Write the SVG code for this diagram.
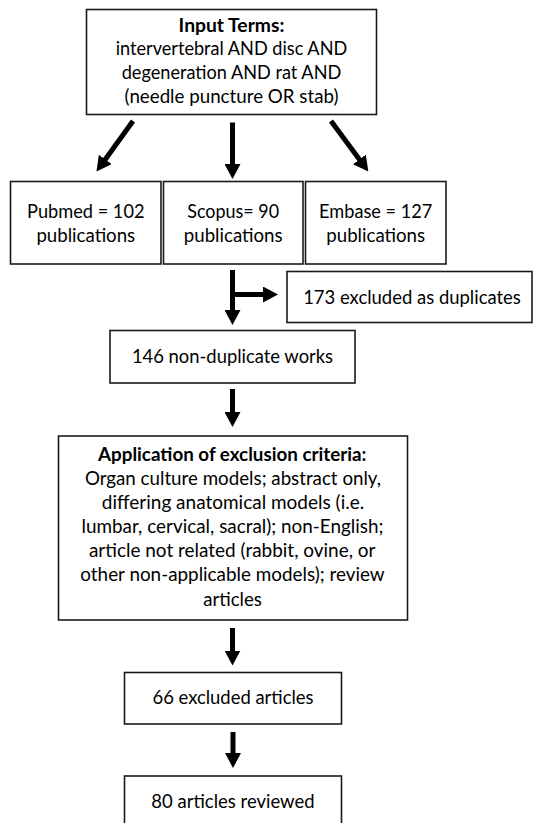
<svg xmlns="http://www.w3.org/2000/svg" width="533" height="823" viewBox="0 0 533 823">
<style>
.box{fill:#fff;stroke:#1a1a1a;stroke-width:1.6}
.t{font-family:Lato,"Open Sans","Liberation Sans",sans-serif;font-size:19.5px;fill:#000;text-anchor:middle}
.b{font-weight:bold}
.ar{stroke:#000;stroke-width:5;fill:none;marker-end:url(#ah)}
</style>
<defs>
<marker id="ah" markerUnits="userSpaceOnUse" viewBox="0 0 15 16" markerWidth="15" markerHeight="16" refX="1" refY="8" orient="auto">
<path d="M0,0 L15,8 L0,16 Z" fill="#000"/>
</marker>
</defs>
<rect width="533" height="823" fill="#fff"/>
<g id="connectors">
<line class="ar" x1="133" y1="121" x2="104.7" y2="160.2"/>
<line class="ar" x1="232.5" y1="122.5" x2="232.5" y2="165"/>
<line class="ar" x1="331" y1="121" x2="360" y2="160.2"/>
<line class="ar" x1="232.5" y1="270" x2="232.5" y2="311"/>
<line class="ar" x1="232.5" y1="294.5" x2="264" y2="294.5"/>
<line class="ar" x1="232.5" y1="389" x2="232.5" y2="413"/>
<line class="ar" x1="232.5" y1="628" x2="232.5" y2="651.5"/>
<line class="ar" x1="233" y1="732" x2="233" y2="754"/>
</g>
<g id="input-terms">
<rect class="box" x="86.5" y="9.5" width="290" height="105"/>
<text class="t b" x="231.5" y="31.5" textLength="105.8" lengthAdjust="spacingAndGlyphs">Input Terms:</text>
<text class="t" x="231.5" y="55.3" textLength="231.5" lengthAdjust="spacingAndGlyphs">intervertebral AND disc AND</text>
<text class="t" x="231.5" y="79" textLength="219.6" lengthAdjust="spacingAndGlyphs">degeneration AND rat AND</text>
<text class="t" x="231.5" y="102.8" textLength="213.9" lengthAdjust="spacingAndGlyphs">(needle puncture OR stab)</text>
</g>
<g id="pubmed">
<rect class="box" x="10.5" y="181.5" width="150.5" height="82.5"/>
<text class="t" x="85.8" y="217.7" textLength="117.4" lengthAdjust="spacingAndGlyphs">Pubmed = 102</text>
<text class="t" x="85.8" y="241.5" textLength="98.8" lengthAdjust="spacingAndGlyphs">publications</text>
</g>
<g id="scopus">
<rect class="box" x="163.5" y="181.5" width="139.5" height="82.5"/>
<text class="t" x="233.2" y="217.7" textLength="91.9" lengthAdjust="spacingAndGlyphs">Scopus= 90</text>
<text class="t" x="233.2" y="241.5" textLength="98.8" lengthAdjust="spacingAndGlyphs">publications</text>
</g>
<g id="embase">
<rect class="box" x="305.5" y="181.5" width="140.5" height="82.5"/>
<text class="t" x="375.7" y="217.7" textLength="113.2" lengthAdjust="spacingAndGlyphs">Embase = 127</text>
<text class="t" x="375.7" y="241.5" textLength="98.8" lengthAdjust="spacingAndGlyphs">publications</text>
</g>
<g id="duplicates">
<rect class="box" x="287" y="271.5" width="245" height="51"/>
<text class="t" x="412" y="304" textLength="217.7" lengthAdjust="spacingAndGlyphs">173 excluded as duplicates</text>
</g>
<g id="non-duplicate">
<rect class="box" x="110" y="330.5" width="245" height="52.5"/>
<text class="t" x="232.5" y="363" textLength="201.2" lengthAdjust="spacingAndGlyphs">146 non-duplicate works</text>
</g>
<g id="exclusion-criteria">
<rect class="box" x="58.5" y="436" width="349" height="184"/>
<text class="t b" x="232.2" y="460.5" textLength="268.4" lengthAdjust="spacingAndGlyphs">Application of exclusion criteria:</text>
<text class="t" x="233" y="484.5" textLength="296.2" lengthAdjust="spacingAndGlyphs">Organ culture models; abstract only,</text>
<text class="t" x="233" y="508.7" textLength="262.4" lengthAdjust="spacingAndGlyphs">differing anatomical models (i.e.</text>
<text class="t" x="232.5" y="533" textLength="301.9" lengthAdjust="spacingAndGlyphs">lumbar, cervical, sacral); non-English;</text>
<text class="t" x="232.2" y="557.2" textLength="286.5" lengthAdjust="spacingAndGlyphs">article not related (rabbit, ovine, or</text>
<text class="t" x="232.5" y="581.4" textLength="304.3" lengthAdjust="spacingAndGlyphs">other non-applicable models); review</text>
<text class="t" x="232.5" y="605.6" textLength="58.7" lengthAdjust="spacingAndGlyphs">articles</text>
</g>
<g id="excluded-articles">
<rect class="box" x="124.5" y="672.5" width="217" height="51.5"/>
<text class="t" x="233" y="704" textLength="161.1" lengthAdjust="spacingAndGlyphs">66 excluded articles</text>
</g>
<g id="articles-reviewed">
<rect class="box" x="124.5" y="776" width="217" height="60"/>
<text class="t" x="233" y="807.5" textLength="163.3" lengthAdjust="spacingAndGlyphs">80 articles reviewed</text>
</g>
</svg>
